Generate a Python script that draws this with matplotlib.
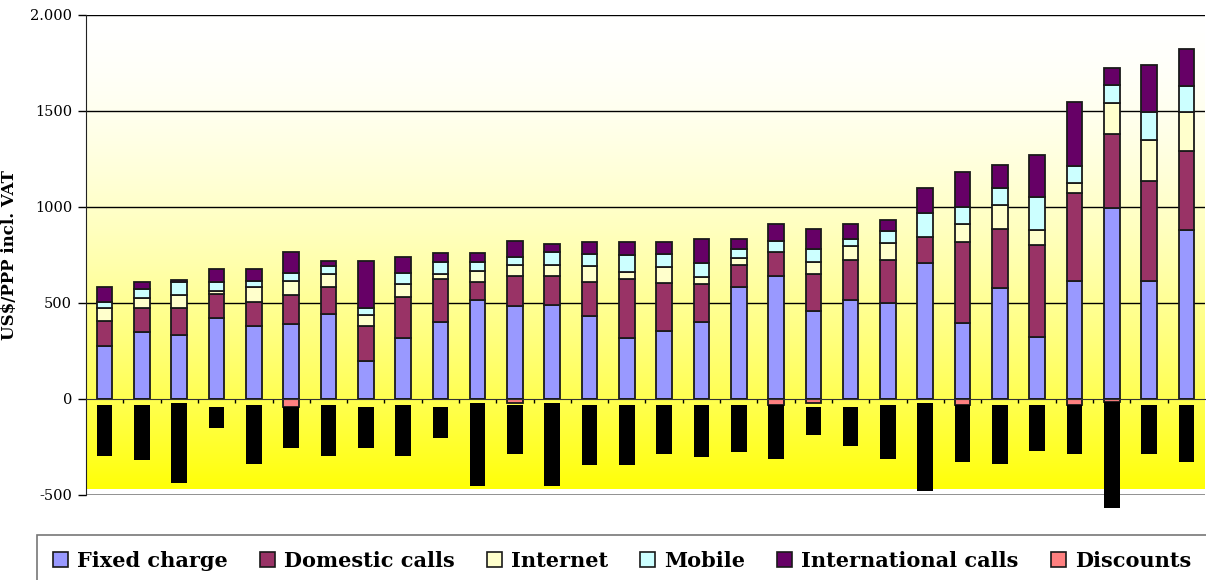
import numpy as np
import matplotlib.pyplot as plt
from matplotlib.patches import Patch
from matplotlib.ticker import FixedLocator, FixedFormatter

# Colours (Excel default palette)
col_fixed = '#9999FF'
col_domestic = '#993366'
col_internet = '#FFFFCC'
col_mobile = '#CCFFFF'
col_intl = '#660066'
col_discount = '#FF8080'
col_other = '#000000'

# Data (US$/PPP incl. VAT), 30 countries
fixed = [274, 347, 333, 424, 382, 391, 441, 198, 316, 399, 516, 483, 490, 432, 316,
         356, 399, 583, 641, 458, 516, 500, 708, 397, 579, 322, 612, 993, 612, 878]
domestic = [132, 125, 141, 123, 125, 149, 141, 184, 215, 226, 92, 156, 149, 176, 309,
            250, 200, 115, 123, 191, 208, 222, 138, 422, 305, 480, 462, 388, 521, 413]
internet = [66, 52, 68, 15, 78, 76, 71, 57, 68, 26, 60, 59, 59, 85, 35,
            83, 35, 35, 0, 66, 73, 92, 0, 91, 126, 76, 50, 159, 215, 204]
mobile = [35, 49, 66, 46, 31, 42, 40, 33, 59, 63, 47, 43, 66, 62, 88,
          66, 73, 50, 59, 68, 36, 59, 124, 90, 90, 174, 92, 96, 147, 134]
international = [76, 35, 10, 67, 59, 108, 26, 245, 83, 45, 44, 84, 45, 61, 68,
                 61, 126, 50, 87, 101, 77, 57, 127, 183, 117, 217, 332, 88, 243, 193]
discounts = [0, 0, 0, 0, 0, -40, 0, 0, 0, 0, 0, -23, 0, 0, 0,
             0, 0, 0, -31, -23, 0, 0, 0, -31, 0, 0, -31, -16, 0, 0]
# unlabelled black series below the axis (top and bottom of each bar)
neg_top = [-31, -31, -21, -42, -31, -40, -31, -42, -31, -42, -21, -31, -21, -31, -31,
           -31, -31, -31, -31, -42, -42, -31, -21, -31, -31, -31, -31, -16, -31, -31]
neg_bottom = [-297, -318, -436, -149, -337, -253, -297, -253, -297, -201, -453, -285, -453, -344, -344,
              -285, -302, -276, -312, -187, -245, -312, -477, -326, -339, -271, -285, -566, -285, -326]

series = [('Fixed charge', fixed, col_fixed),
          ('Domestic calls', domestic, col_domestic),
          ('Internet', internet, col_internet),
          ('Mobile', mobile, col_mobile),
          ('International calls', international, col_intl)]

ytick_vals = [-500, 0, 500, 1000, 1500, 2000]
ytick_labels = ['-500', '0', '500', '1000', '1500', '2.000']

fig = plt.figure(figsize=(12.06, 5.8), dpi=100)
ax = fig.add_axes([86 / 1206, 1 - 495 / 580, 1119 / 1206, 480 / 580])

# white -> yellow gradient background (whiter for longer at the top)
t = np.linspace(0, 1, 256)
rgb = np.ones((256, 1, 3))
rgb[:, 0, 2] = 1 - 0.97 * t ** 1.7
ax.imshow(rgb, extent=[0, 1, 0.012, 1], transform=ax.transAxes,
          aspect='auto', zorder=0)

x = np.arange(len(fixed))
w = 0.42
bottom = np.zeros(len(fixed))
for name, vals, c in series:
    ax.bar(x, vals, w, bottom=bottom, color=c, edgecolor='#1a1a1a',
           linewidth=1.3, zorder=3)
    bottom += np.array(vals)

ax.bar(x, discounts, w, color=col_discount, edgecolor='#1a1a1a',
       linewidth=1.3, zorder=3)
neg_top = np.array(neg_top)
neg_bottom = np.array(neg_bottom)
ax.bar(x, neg_bottom - neg_top, w, bottom=neg_top, color=col_other,
       linewidth=0, zorder=3, clip_on=False)

ax.set_xlim(-0.5, len(fixed) - 0.5)
ax.set_ylim(-500, 2000)

# gridlines
for v in ytick_vals[2:]:
    ax.axhline(v, color='black', linewidth=1, zorder=1)
ax.axhline(-500, color='#888888', linewidth=2, zorder=1)

ax.yaxis.set_major_locator(FixedLocator(ytick_vals))
ax.yaxis.set_major_formatter(FixedFormatter(ytick_labels))
ax.tick_params(axis='y', direction='out', length=6, width=1, colors='black',
               labelsize=10.5, pad=4)
for lab in ax.get_yticklabels():
    lab.set_family('DejaVu Serif')

# category axis at y=0, ticks between the bars
ax.spines['bottom'].set_position(('data', 0))
ax.spines['bottom'].set_color('#333333')
ax.spines['bottom'].set_zorder(4)
ax.xaxis.set_major_locator(FixedLocator(np.arange(len(fixed) - 1) + 0.5))
ax.tick_params(axis='x', direction='out', length=3, width=1, labelbottom=False)
ax.spines['top'].set_visible(False)
ax.spines['right'].set_visible(False)
ax.spines['left'].set_color('#222222')

ax.set_ylabel('US$/PPP incl. VAT', fontsize=12, fontweight='bold', family='DejaVu Serif')
ax.yaxis.set_label_coords(-0.061, 0.5)

handles = [Patch(facecolor=c, edgecolor='#1a1a1a', linewidth=1.2) for _, _, c in series]
handles.append(Patch(facecolor=col_discount, edgecolor='#1a1a1a', linewidth=1.2))
labels = [s[0] for s in series] + ['Discounts']
leg = fig.legend(handles, labels, loc='upper left', bbox_to_anchor=(37 / 1206, 1 - 535 / 580),
                 ncol=6, frameon=True, fancybox=False, edgecolor='#555555',
                 prop={'family': 'DejaVu Serif', 'weight': 'bold', 'size': 15},
                 handlelength=0.72, handleheight=0.72, handletextpad=0.43,
                 columnspacing=1.55, borderpad=0.75, borderaxespad=0)
leg.get_frame().set_linewidth(1.2)

fig.savefig('out.png', dpi=100, facecolor='white')
